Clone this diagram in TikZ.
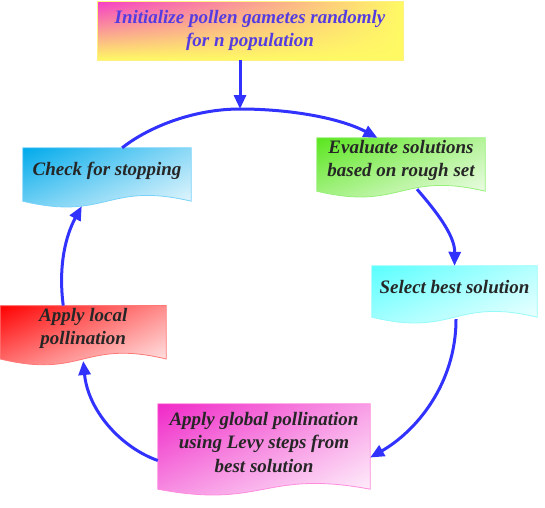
\documentclass[tikz,border=0pt]{standalone}
\usepackage{fontspec}
\setmainfont{Liberation Serif}
\usetikzlibrary{arrows.meta,calc,shadings,backgrounds}

\definecolor{flowblue}{RGB}{50,50,255}
\definecolor{inittext}{RGB}{85,60,225}
\definecolor{initpink}{RGB}{245,60,200}
\definecolor{inityellow}{RGB}{255,250,100}
\definecolor{initedge}{RGB}{255,240,130}
\definecolor{chkfill}{RGB}{0,170,235}
\definecolor{chkedge}{RGB}{120,210,250}
\definecolor{evalfill}{RGB}{90,230,30}
\definecolor{evaledge}{RGB}{150,240,120}
\definecolor{selfill}{RGB}{90,255,255}
\definecolor{seledge}{RGB}{150,250,250}
\definecolor{locfill}{RGB}{255,0,0}
\definecolor{locedge}{RGB}{255,120,120}
\definecolor{globfill}{RGB}{240,40,200}
\definecolor{globedge}{RGB}{255,140,220}

\tikzset{
  steptext/.style={align=center, inner sep=0pt, font=\fontsize{19}{23.5}\selectfont\bfseries\itshape, text=black!85},
  flow/.style={draw=flowblue, line width=3pt, -{Triangle[length=14pt,width=12pt]}},
}

% document shape (wavy bottom) round a node: name, fill, edge
\newcommand{\docshape}[3]{%
  \path[draw=#3, line width=0.8pt, upper left=#2, upper right=#2!45!white, lower left=#2!45!white, lower right=white]
    (#1.north west) -- (#1.north east) -- ($(#1.south east)+(0,8)$)
    .. controls ($(#1.south)+(0,-12)$) and ($(#1.south)+(0,28)$) .. ($(#1.south west)+(0,8)$) -- cycle;
}

\begin{document}
\begin{tikzpicture}[x=1pt,y=1pt,yscale=-1,xscale=1]
\useasboundingbox (0,0) rectangle (545,507);

%Shape: Rectangle (start)
\node [draw=initedge, line width=0.8pt, upper left=initpink, upper right=inityellow, lower left=inityellow, lower right=inityellow,
  minimum width=306pt, minimum height=59pt, steptext, text=inittext] (init) at (250,30.5)
  {Initialize pollen gametes randomly\\for n population};

% Text Nodes (document shapes are drawn behind them)
\node [steptext, minimum width=168pt, minimum height=45pt] (eval) at (401,160.5) {Evaluate solutions\\based on rough set};
\node [steptext, minimum width=165pt, minimum height=43pt] (sel) at (454.5,287.5) {Select best solution};
\node [steptext, minimum width=212pt, minimum height=77pt] (glob) at (264,442.5) {Apply global pollination\\using Levy steps from\\best solution};
\node [steptext, minimum width=165.5pt, minimum height=45pt] (loc) at (83.25,328.3) {Apply local\\pollination};
\node [steptext, minimum width=168pt, minimum height=45pt] (chk) at (107,170.5) {Check for stopping};

\begin{pgfonlayer}{background}
\docshape{eval}{evalfill}{evaledge}
\docshape{sel}{selfill}{seledge}
\docshape{glob}{globfill}{globedge}
\docshape{loc}{locfill}{locedge}
\docshape{chk}{chkfill}{chkedge}
\end{pgfonlayer}

%Curved Lines
\coordinate (top) at (240,109);
\draw [flow] (init.south -| top) -- (top);
\draw [flow] ($(chk.north west)!0.59!(chk.north east)$) .. controls (150,126) and (195,109) .. (top)
  .. controls (290,109) and (340,118) .. ($(eval.north west)!0.36!(eval.north east)$);
\draw [flow] ($(eval.south)+(16,6)$) .. controls (435,210) and (455,235) .. (sel.north);
\draw [flow] ($(sel.south)+(1.5,10)$) .. controls (456,385) and (415,432) .. ($(glob.east)+(0,15)$);
\draw [flow] ($(glob.west)+(0,18)$) .. controls (120,447) and (88,410) .. ($(loc.south)+(0,10)$);
\draw [flow] ($(loc.north)+(-20,0)$) .. controls (58,265) and (66,235) .. ($(chk.south west)!0.35!(chk.south east)+(0,13)$);

\end{tikzpicture}
\end{document}
